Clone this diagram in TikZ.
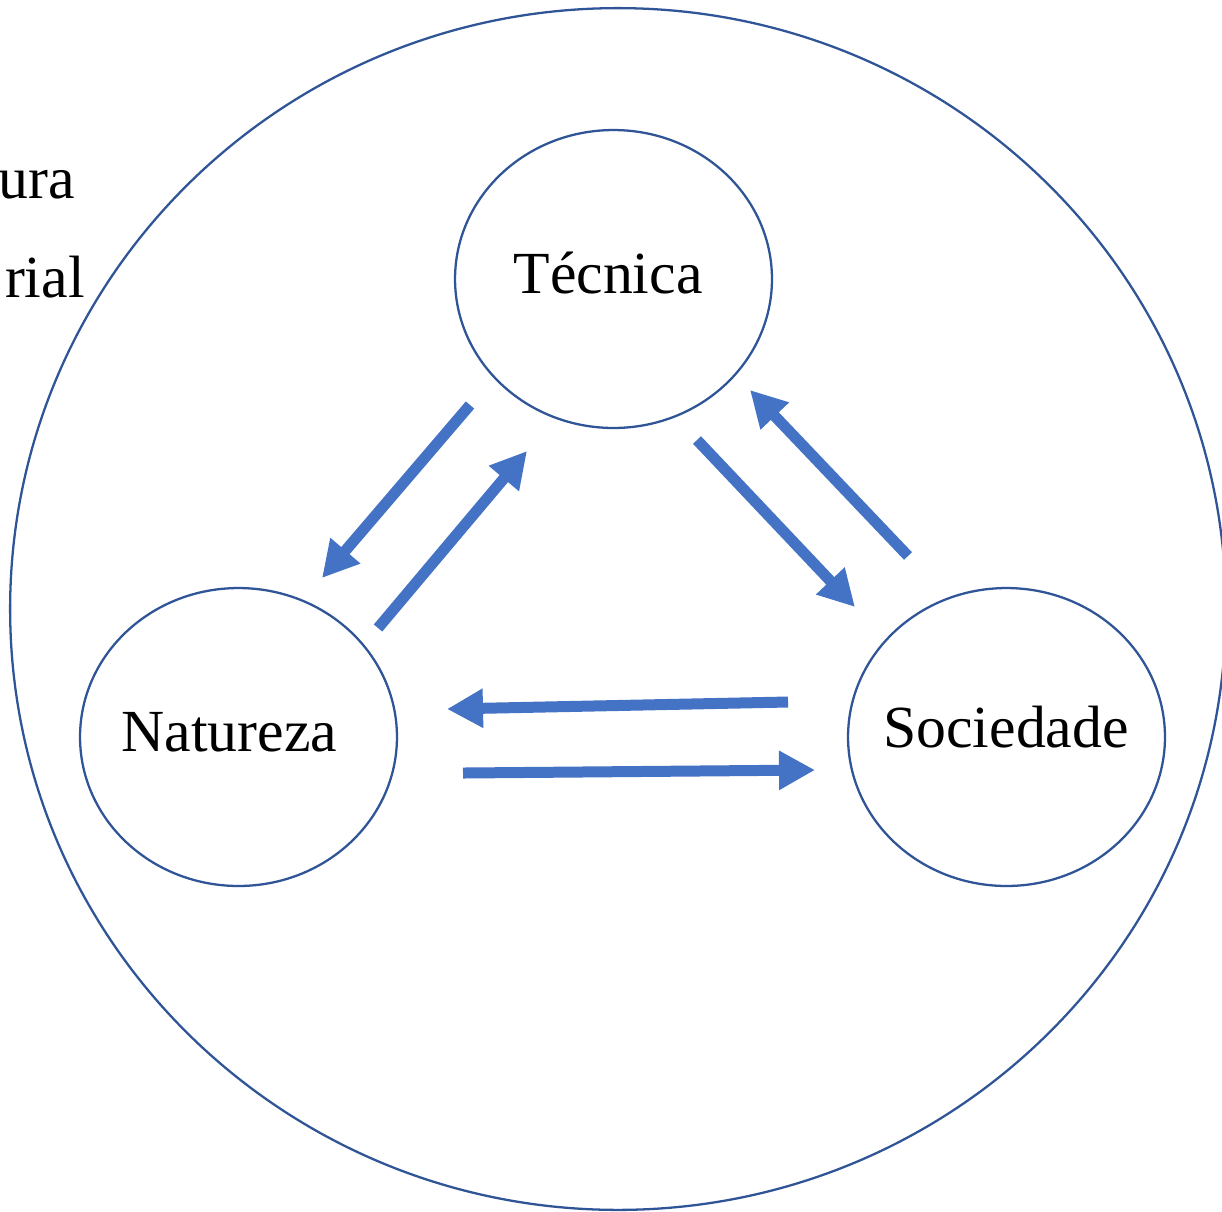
\documentclass[tikz,border=0pt]{standalone}
\usepackage{fontspec}
\setmainfont{Liberation Serif}
\usetikzlibrary{arrows.meta,shapes.geometric}

\definecolor{ringblue}{HTML}{2F5597}
\definecolor{flowblue}{HTML}{4472C4}

\tikzset{
	ring/.style={draw=ringblue, line width=1.3pt, ellipse, inner sep=0pt},
	pole/.style={ring, minimum width=6.34cm, minimum height=5.96cm},
	word/.style={inner sep=0pt, font=\fontsize{34}{40}\selectfont},
	flow/.style={draw=flowblue, line width=0.22cm, -{Triangle[length=0.72cm, width=0.74cm]}},
}

\begin{document}
\begin{tikzpicture}[x=0.02cm, y=-0.02cm]
		\useasboundingbox (0, 0) rectangle (1222, 1211);

		\node [ring, minimum width=24.32cm, minimum height=24.04cm] (mundo) at (618, 609) {};

		\node [word, anchor=base east] (cultura) at (75, 198) {ura};
		\node [word, anchor=base east] (material) at (85, 297) {rial};

		\node [pole] (tecnica) at (613.5, 279) {};
		\node [pole] (natureza) at (238.5, 737) {};
		\node [pole] (sociedade) at (1006.5, 737) {};

		\node [word, anchor=base] (tecnicatxt) at (608, 293) {Técnica};
		\node [word, anchor=base] (naturezatxt) at (229.5, 751) {Natureza};
		\node [word, anchor=base] (sociedadetxt) at (1006, 747) {Sociedade};

		% pontas das setas
		\coordinate (tn1) at (470, 405);
		\coordinate (tn2) at (322, 578);
		\coordinate (nt1) at (378, 628);
		\coordinate (nt2) at (527, 451);
		\coordinate (ts1) at (697, 440);
		\coordinate (ts2) at (855, 607);
		\coordinate (st1) at (908, 556);
		\coordinate (st2) at (750, 390);
		\coordinate (sn1) at (788, 702);
		\coordinate (sn2) at (447, 709);
		\coordinate (ns1) at (463, 773);
		\coordinate (ns2) at (815, 770);

		\draw [flow] (tn1) -- (tn2);
		\draw [flow] (nt1) -- (nt2);
		\draw [flow] (ts1) -- (ts2);
		\draw [flow] (st1) -- (st2);
		\draw [flow] (sn1) -- (sn2);
		\draw [flow] (ns1) -- (ns2);
	\end{tikzpicture}
\end{document}
